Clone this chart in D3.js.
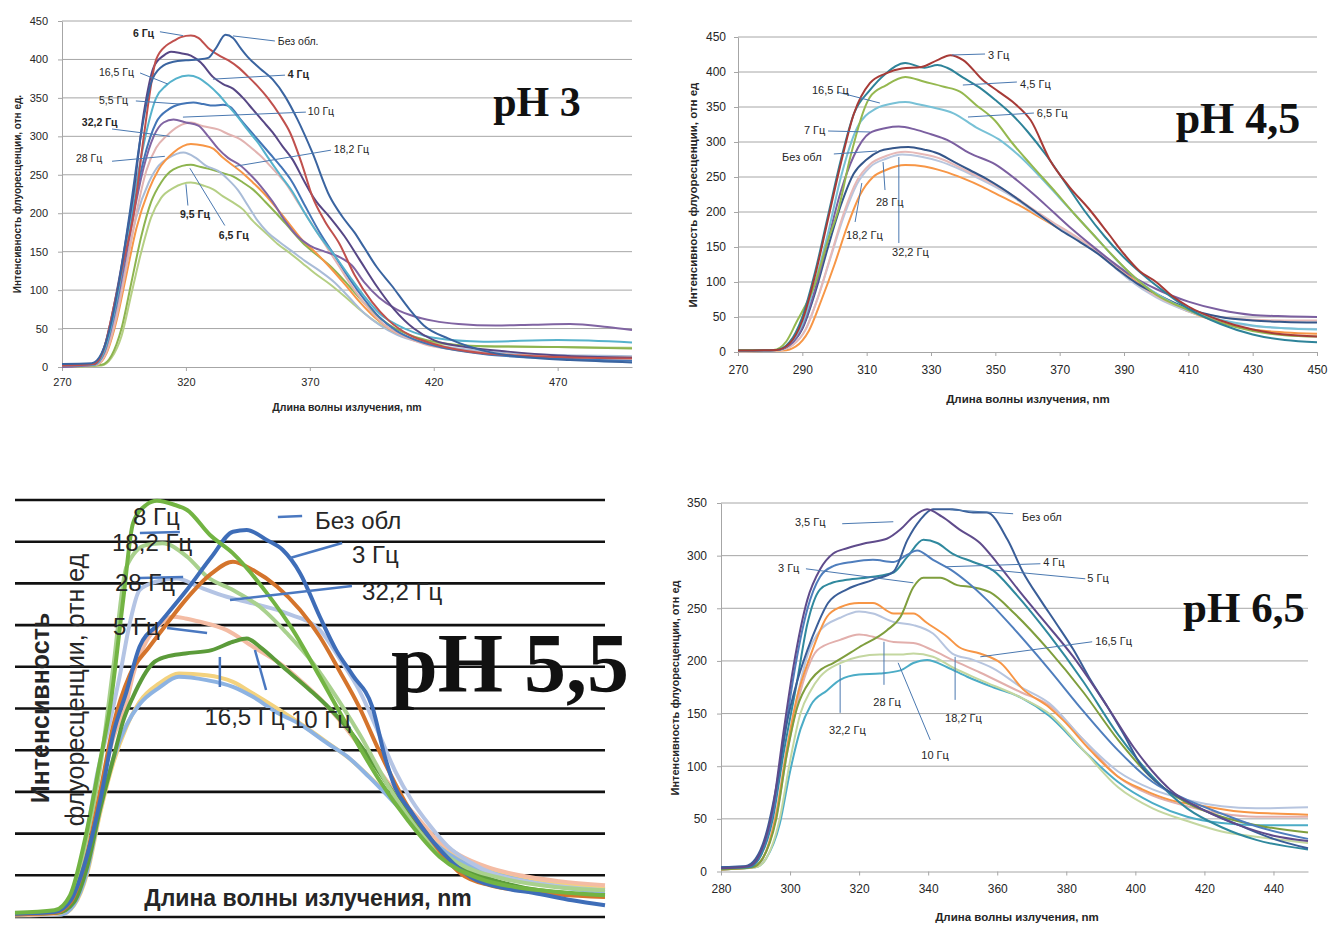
<!DOCTYPE html>
<html>
<head>
<meta charset="utf-8">
<script src="https://cdn.jsdelivr.net/npm/d3@7"></script>
<style>
  body { margin: 0; background: #fff; }
  text { font-family: "Liberation Sans", Arial, sans-serif; fill: #262626; }
  text.ph-title { font-family: "Liberation Serif", "Times New Roman", serif; font-weight: bold; fill: #111; }
</style>
</head>
<body>
<svg id="chart" width="1331" height="925"></svg>
<script>
// ========== DATA: pH 3 (values as [wavelength nm, intensity]) ==========
const ph3Names = ["9,5 Гц", "6,5 Гц", "28 Гц", "18,2 Гц", "10 Гц", "32,2 Гц", "5,5 Гц", "16,5 Гц", "4 Гц", "6 Гц", "Без обл."];
const ph3Values = [
  [[270,0],[286,2],[290,12],[294,40],[298,95],[302,150],[306,195],[310,220],[315,233],[322,240],[327,236],[331,231],[335,222],[339,214],[343,205],[347,190],[352,175],[357,160],[362,148],[367,135],[372,122],[378,108],[384,92],[390,75],[396,60],[402,48],[410,38],[420,31],[440,27],[470,26],[500,25]],
  [[270,0],[286,3],[290,15],[294,50],[298,110],[302,170],[306,215],[310,240],[315,257],[322,263],[326,260],[330,257],[335,252],[339,248],[343,240],[347,231],[352,215],[357,198],[362,180],[367,162],[372,148],[378,132],[384,112],[390,90],[396,70],[402,55],[410,42],[420,33],[440,27],[470,26],[500,24]],
  [[270,2],[284,4],[288,22],[292,70],[296,135],[300,195],[305,240],[309,262],[313,272],[319,279],[324,272],[328,262],[333,255],[337,244],[341,230],[345,210],[349,190],[353,175],[358,162],[363,150],[368,138],[374,125],[380,110],[386,90],[392,70],[398,55],[405,42],[415,32],[430,24],[450,18],[480,15],[500,14]],
  [[270,1],[284,3],[288,18],[292,60],[296,120],[300,180],[305,230],[309,257],[315,279],[322,290],[327,288],[331,284],[335,272],[339,262],[343,252],[347,240],[352,224],[357,205],[362,185],[367,165],[372,150],[378,130],[384,108],[390,85],[396,65],[402,50],[410,38],[420,28],[440,18],[470,14],[500,12]],
  [[270,0],[284,3],[288,20],[292,65],[296,130],[300,200],[304,255],[308,285],[312,300],[317,313],[322,318],[327,313],[333,309],[337,303],[342,296],[346,286],[350,275],[355,258],[360,240],[365,215],[370,190],[376,160],[382,130],[388,100],[394,75],[400,55],[408,40],[416,30],[430,22],[450,16],[480,13],[500,12]],
  [[270,0],[283,3],[287,18],[291,65],[295,130],[299,200],[303,260],[307,300],[311,318],[315,322],[320,318],[325,314],[329,300],[333,284],[337,272],[342,262],[346,250],[350,236],[355,215],[360,190],[365,170],[370,158],[376,150],[382,143],[387,132],[392,110],[398,90],[405,75],[412,66],[420,60],[430,56],[445,54],[460,55],[475,56],[490,52],[500,48]],
  [[270,3],[283,4],[287,22],[291,70],[295,140],[299,210],[303,270],[308,318],[313,335],[318,342],[323,344],[327,342],[331,340],[335,341],[338,338],[342,322],[346,307],[350,292],[354,277],[358,262],[363,240],[368,210],[374,175],[380,145],[386,115],[392,88],[398,65],[405,47],[412,36],[420,28],[440,17],[470,11],[500,8]],
  [[270,2],[283,3],[287,20],[291,70],[295,140],[299,220],[303,290],[308,350],[312,366],[316,375],[321,379],[325,376],[329,367],[333,355],[337,340],[341,325],[345,308],[349,292],[353,273],[358,250],[363,228],[368,200],[374,170],[380,145],[386,118],[392,92],[398,70],[405,55],[412,45],[420,38],[440,33],[470,35],[500,32]],
  [[270,3],[283,4],[287,25],[291,80],[295,150],[299,230],[303,330],[307,390],[311,405],[314,410],[318,408],[322,405],[326,396],[331,377],[335,368],[339,362],[343,350],[347,335],[351,320],[355,305],[359,287],[363,270],[368,240],[372,218],[378,195],[384,170],[390,140],[397,105],[404,75],[412,50],[420,35],[435,25],[450,20],[470,15],[500,12]],
  [[270,2],[283,4],[287,25],[291,80],[295,140],[299,200],[303,300],[308,400],[312,418],[315,424],[318,429],[322,431],[325,428],[329,415],[333,406],[337,399],[341,390],[345,378],[349,365],[353,350],[358,327],[362,305],[367,262],[371,222],[376,190],[382,160],[388,120],[395,85],[402,60],[410,42],[420,30],[440,18],[470,13],[500,11]],
  [[270,4],[282,5],[286,18],[290,60],[294,130],[298,215],[302,305],[306,370],[310,390],[315,397],[320,399],[325,400],[329,402],[332,414],[336,432],[339,428],[342,415],[345,403],[350,388],[355,374],[360,352],[365,322],[371,279],[378,222],[383,196],[388,175],[392,155],[397,130],[403,106],[410,76],[416,54],[426,37],[443,19],[460,12],[475,9],[500,6]]
];
const ph3XTicks = [270, 320, 370, 420, 470];
const ph3YTicks = [0, 50, 100, 150, 200, 250, 300, 350, 400, 450];
const ph3Notes = [
  { text: "6 Гц", bold: true, at: [298.6, 434.6], from: [309.5, 436], to: [318.8, 431] },
  { text: "Без обл.", at: [357.1, 424], from: [355.9, 424], to: [339, 430.6] },
  { text: "16,5 Гц", at: [284.9, 383.7], from: [301.5, 382.4], to: [312.7, 368] },
  { text: "4 Гц", bold: true, at: [361.1, 381], from: [360, 379.6], to: [330.9, 374.4] },
  { text: "5,5 Гц", at: [284.9, 347], from: [299.8, 346], to: [317.6, 342] },
  { text: "10 Гц", at: [369.2, 333], from: [368.4, 331.5], to: [318.8, 325] },
  { text: "32,2 Гц", bold: true, at: [278, 318.5], from: [290.2, 309.5], to: [313.5, 300] },
  { text: "28 Гц", at: [275.6, 271.5], from: [290.2, 267.6], to: [311.5, 274] },
  { text: "18,2 Гц", at: [379.7, 283.4], from: [378.5, 282], to: [339.8, 261] },
  { text: "9,5 Гц", bold: true, at: [317.6, 198.6], from: [320.8, 210], to: [320, 237.7] },
  { text: "6,5 Гц", bold: true, at: [333.3, 171], from: [335.7, 184], to: [321.6, 258.5] }
];

// ========== DATA: pH 4,5 ==========
const ph45Names = ["32,2 Гц", "18,2 Гц", "28 Гц", "Без обл", "7 Гц", "6,5 Гц", "16,5 Гц", "4,5 Гц", "3 Гц"];
const ph45Values = [
  [[270,1],[284,2],[288,8],[292,30],[296,75],[300,125],[304,180],[308,225],[312,250],[316,260],[322,267],[328,265],[334,258],[340,248],[346,236],[352,222],[358,208],[364,192],[370,176],[376,160],[382,143],[388,122],[394,100],[400,80],[410,58],[420,42],[430,32],[440,28],[450,26]],
  [[270,1],[283,3],[287,10],[291,32],[295,80],[299,138],[303,195],[307,240],[311,264],[316,276],[321,282],[327,279],[333,272],[338,263],[344,250],[350,236],[356,220],[362,200],[368,182],[374,165],[380,147],[386,125],[392,102],[400,78],[410,58],[420,45],[430,37],[440,34],[450,33]],
  [[270,1],[283,3],[287,10],[291,32],[295,80],[299,140],[303,200],[307,245],[311,268],[316,280],[322,286],[328,282],[333,276],[338,266],[344,252],[350,238],[356,222],[362,203],[368,185],[374,168],[380,150],[386,128],[392,105],[400,80],[410,60],[420,50],[430,46],[440,45],[450,45]],
  [[270,2],[282,3],[286,10],[290,33],[294,85],[298,150],[302,210],[306,255],[310,275],[314,287],[318,291],[323,293],[328,289],[332,284],[337,272],[342,260],[347,248],[352,234],[358,215],[364,195],[370,175],[376,158],[382,140],[388,118],[394,98],[400,83],[410,62],[420,50],[430,45],[440,43],[450,42]],
  [[270,2],[282,3],[286,10],[290,35],[294,90],[298,160],[302,230],[306,280],[311,313],[316,320],[320,322],[325,318],[330,311],[335,303],[342,284],[350,268],[356,248],[362,225],[368,200],[374,175],[380,152],[386,130],[392,110],[400,90],[410,72],[420,60],[430,53],[440,51],[450,50]],
  [[270,2],[282,3],[286,12],[290,40],[294,100],[298,170],[302,250],[307,320],[313,348],[318,355],[322,357],[326,354],[330,350],[337,341],[344,321],[351,304],[357,282],[364,250],[370,220],[376,190],[382,160],[388,130],[395,100],[402,78],[410,60],[420,46],[430,38],[440,34],[450,32]],
  [[270,3],[281,3],[285,15],[288,41],[294,98],[298,160],[301,200],[305,280],[311,364],[316,381],[322,393],[328,386],[334,379],[339,372],[344,353],[350,330],[355,300],[361,268],[369,227],[375,195],[380,170],[386,140],[392,112],[400,82],[410,60],[420,42],[430,30],[440,24],[450,22]],
  [[270,2],[282,3],[286,14],[290,50],[294,115],[298,195],[302,275],[306,340],[311,374],[316,398],[322,413],[328,406],[332,410],[335,406],[340,392],[345,378],[350,360],[355,340],[360,315],[366,280],[372,240],[378,200],[384,165],[390,135],[396,110],[402,88],[410,62],[420,40],[430,25],[440,17],[450,14]],
  [[270,2],[282,3],[286,12],[290,45],[294,110],[298,190],[302,270],[306,340],[311,384],[316,398],[321,405],[327,407],[332,417],[336,424],[340,417],[346,389],[351,372],[356,355],[361,331],[367,274],[373,236],[379,205],[385,170],[390,140],[395,115],[400,100],[405,80],[410,65],[420,45],[430,32],[440,25],[450,22]]
];
const ph45XTicks = [270, 290, 310, 330, 350, 370, 390, 410, 430, 450];
const ph45YTicks = [0, 50, 100, 150, 200, 250, 300, 350, 400, 450];
const ph45Notes = [
  { text: "3 Гц", at: [347.7, 424.3], from: [346.8, 425.7], to: [336.5, 424.3] },
  { text: "4,5 Гц", at: [357.7, 382.9], from: [356.7, 385.7], to: [339.9, 381.4] },
  { text: "6,5 Гц", at: [362.9, 341.4], from: [362, 341.4], to: [341.5, 335.7] },
  { text: "16,5 Гц", at: [293, 374.3], from: [300.8, 371.4], to: [314.1, 355.7] },
  { text: "7 Гц", at: [290.5, 317], from: [298, 315.7], to: [311, 314.3] },
  { text: "Без обл", at: [283.7, 278.6], from: [299.8, 282.9], to: [313.2, 287.1] },
  { text: "28 Гц", at: [312.9, 214.3], from: [315.7, 231.4], to: [315.1, 271.4] },
  { text: "18,2 Гц", at: [303.6, 167], from: [306.4, 185.7], to: [308.5, 241.4] },
  { text: "32,2 Гц", at: [317.9, 142.9], from: [320, 155.7], to: [320, 278.6] }
];

// ========== DATA: pH 5,5 (no value axis in the original) ==========
const ph55Names = ["32,2 Гц", "10 Гц", "5 Гц", "16,5 Гц", "28 Гц", "18,2 Гц", "3 Гц", "Без обл", "8 Гц"];
const ph55Values = [
  [[270,2],[284,3],[288,14],[292,52],[296,125],[300,185],[304,228],[308,258],[314,280],[320,292],[328.5,290],[336.5,282],[342.6,268],[350,250],[357,232],[365,210],[372,190],[379,165],[386,138],[392,112],[398,90],[406,70],[416,55],[428,44],[440,38],[450,34]],
  [[270,2],[284,3],[288,15],[292,55],[296,130],[300,190],[304,230],[308,255],[314,275],[320,288],[328.5,284],[336.5,276],[342.6,264],[350,245],[356.6,232],[365.4,208],[371.5,192],[378,168],[385,140],[391.6,113],[397.8,89],[405.4,68],[415.4,53],[428,41],[440,34],[450,30]],
  [[270,2],[283,4],[288,20],[292,70],[296,150],[300,215],[304,256],[306,290],[310,330],[314,350],[318,360],[322,358],[326.4,354],[334.6,344],[342.6,324],[350.8,304],[357,284],[363,262],[369,236],[375,206],[381,176],[387,145],[393.5,116],[399,92],[405.7,74],[414,60],[424,50],[436,43],[450,38]],
  [[270,3],[283,5],[288,18],[292,60],[296,130],[300,190],[303,235],[306,264],[312,304],[316,312],[322,316],[330,320],[336.5,330],[340.7,334],[344.7,324],[351.7,300],[360,272],[366,250],[372,224],[380,180],[387,140],[393,108],[399.6,80],[405,62],[411.8,50],[420,40],[430,32],[440,28],[450,26]],
  [[270,3],[282,6],[287,25],[291,80],[295,170],[299,235],[302,290],[305,352],[308,392],[313,402],[319.4,406],[326,396],[334.6,384],[342.6,376],[353,364],[363,344],[369,310],[375,272],[381,220],[386,175],[391,140],[396.5,110],[402,85],[408.7,66],[416,52],[424,44],[436,37],[450,32]],
  [[270,4],[282,6],[287,25],[291,80],[296,180],[300,300],[304,420],[310,446],[315,448],[322.5,432],[328.6,408],[336.5,392],[344.7,372],[353,340],[361,304],[366,276],[375,220],[385,150],[395,95],[405,65],[420,45],[435,36],[450,32]],
  [[270,3],[282,5],[287,18],[291,60],[296,150],[300,230],[305,290],[311,324],[316,350],[322,380],[330,412],[336.5,426],[342.6,416],[350,396],[357,368],[363,336],[369,295],[375,252],[381,200],[386,160],[391,125],[396,98],[401,72],[406,52],[415,38],[424,32],[436,27],[450,24]],
  [[270,4],[282,6],[287,20],[291,60],[296,140],[300,220],[304,270],[308,324],[314,352],[322.4,392],[330,432],[336.5,462],[340.7,464],[346.8,452],[351.7,440],[357,412],[363,360],[368,320],[373,290],[379,252],[383,190],[386,155],[390.5,128],[397.8,89],[409,48],[420,34],[428,29],[440,20],[450,14]],
  [[270,5],[282,8],[286.8,26],[291.3,92],[296,188],[299,252],[303,380],[306,472],[310,494],[313.3,499],[318.8,494],[322.5,488],[329.5,458],[336.5,436],[346.9,388],[354.8,344],[363,288],[372,225],[381,165],[390,115],[399.6,72],[411.8,46],[424,35],[436,30],[450,26]]
];
const ph55YLines = [0, 50, 100, 150, 200, 250, 300, 350, 400, 450, 500];
const ph55Notes = [
  { text: "8 Гц", at: [306, 479.6] },
  { text: "Без обл", at: [361.5, 474.8], from: [350.2, 479.6], to: [357.6, 480.8] },
  { text: "18,2 Гц", at: [299.6, 448.4], from: [308.1, 460.4], to: [320.3, 461.6] },
  { text: "3 Гц", at: [372.8, 434], from: [369.8, 448.4], to: [353.9, 430.5] },
  { text: "28 Гц", at: [300.5, 400.5], from: [308.1, 406.5], to: [321.3, 407.7] },
  { text: "32,2 Гц", at: [375.9, 389.7], from: [372.8, 396.9], to: [335.6, 380.1] },
  { text: "5 Гц", at: [299.9, 347.7], from: [316.4, 346.5], to: [328.6, 340.5] },
  { text: "16,5 Гц", at: [327.8, 239.8], from: [332.5, 275.8], to: [332.5, 311.8] },
  { text: "10 Гц", at: [354.2, 236.2], from: [346.6, 272.2], to: [343.2, 320.1] }
];

// ========== DATA: pH 6,5 ==========
const ph65Names = ["10 Гц", "32,2 Гц", "28 Гц", "18,2 Гц", "16,5 Гц", "5 Гц", "4 Гц", "3 Гц", "Без обл", "3,5 Гц"];
const ph65Values = [
  [[280,2],[290,4],[293,12],[297,45],[300,95],[303,135],[306,158],[310.7,172],[314.5,182],[320,187],[326,188],[332,191],[335.7,198],[339.7,201],[345.5,194],[351.3,185],[358.8,175],[367,165],[375,148],[385,115],[395,85],[405,65],[415,52],[425,46],[435,44],[450,44]],
  [[280,2],[290,4],[293,12],[297,50],[300,105],[303,150],[306,172],[308.7,185],[314.5,198],[320,204],[326,206],[332,206],[335.7,207],[341.4,204],[347,194],[355,182],[367,165],[375,150],[385,115],[395,80],[405,60],[415,48],[425,38],[435,33],[450,27]],
  [[280,2],[289,4],[292,12],[296,52],[299,110],[302,158],[305,192],[307.8,210],[314.5,220],[320,225],[324,223],[330,218],[335.7,217],[341.4,210],[347,201],[355,189],[367,170],[375,158],[385,125],[395,90],[405,72],[415,62],[425,55],[435,52],[450,52]],
  [[280,2],[289,4],[292,12],[296,55],[299,115],[302,165],[305,205],[308.7,229],[314.5,241],[320,247],[324,245],[330,237],[335.7,234],[341.4,226],[347,207],[353,201],[358.8,193],[367,175],[375,160],[385,125],[395,95],[405,78],[415,68],[425,62],[435,60],[450,61]],
  [[280,2],[289,4],[292,12],[296,55],[299,115],[302,165],[305.8,204],[310.7,242],[314.5,251],[320,255],[324,255],[330,245],[335.7,245],[339.7,236],[345.5,223],[349,213],[355,207],[361,198],[367.5,173],[375,156],[379,144],[387,115],[395,90],[402,78],[410,68],[420,62],[430,57],[440,55],[450,54]],
  [[280,2],[289,4],[292,12],[296,50],[299,110],[302,155],[306,182],[309,192],[312.5,198],[320,213],[328,229],[332,242],[335.7,270],[338.6,279],[343.5,279],[348.4,272],[353,270],[358,265],[365,245],[375,210],[385,170],[395,125],[405,88],[415,65],[425,52],[435,44],[450,37]],
  [[280,3],[288,4],[291,12],[295,50],[298,110],[302,180],[305,235],[308.7,268],[312,274],[316.5,277],[324,280],[330,284],[334,299],[338.6,315],[342.6,312],[347,302],[353,294],[358.8,286],[365,265],[375,225],[385,180],[395,130],[405,90],[415,60],[425,42],[435,30],[450,21]],
  [[280,4],[288,5],[291,14],[295,55],[298,120],[301,185],[305,249],[308.7,280],[312.5,290],[318,294],[324,296],[330,294],[334,301],[336.8,305],[341.4,296],[346.4,287],[351.3,275],[357,258],[365,230],[375,192],[385,152],[395,115],[405,85],[415,68],[425,55],[435,43],[450,31]],
  [[280,4],[287,5],[290,12],[293,35],[296,80],[299,140],[302,180],[305,210],[308,235],[311,255],[316.5,268],[324,277],[330,285],[334,315],[337.7,334],[341.4,344],[347,344],[353,341],[357,341],[363,315],[367.5,284],[372.5,258],[377,236],[382,211],[387,182],[392,156],[396.5,131],[402,99],[408,80],[414,68],[420,58],[430,44],[440,31],[450,22]],
  [[280,3],[288,5],[291,15],[295,60],[298,130],[301,195],[305,258],[308.7,287],[312.5,302],[316.5,307],[322,312],[328,316],[332,325],[335.7,337],[339.7,344],[344,337],[349,325],[355,312],[360,293],[366,268],[372.5,242],[382,204],[392,156],[399.5,118],[405,95],[410,78],[420,58],[430,44],[440,34],[450,29]]
];
const ph65XTicks = [280, 300, 320, 340, 360, 380, 400, 420, 440];
const ph65YTicks = [0, 50, 100, 150, 200, 250, 300, 350];
const ph65Notes = [
  { text: "3,5 Гц", at: [301.4, 332.2], from: [315.1, 330.3], to: [329.9, 332.2] },
  { text: "Без обл", at: [367.2, 337], from: [364.6, 339.8], to: [346.4, 343.6] },
  { text: "4 Гц", at: [373.3, 294.2], from: [372.5, 292.3], to: [344.9, 289.4] },
  { text: "5 Гц", at: [386.1, 279], from: [385.5, 278], to: [358, 286.6] },
  { text: "3 Гц", at: [296.5, 288.5], from: [304.6, 287.5], to: [335.7, 274.2] },
  { text: "16,5 Гц", at: [388.4, 219.1], from: [387.5, 218.2], to: [355.1, 203.9] },
  { text: "28 Гц", at: [324.1, 161.1], from: [327.2, 177.3], to: [327.2, 218.2] },
  { text: "18,2 Гц", at: [344.9, 145.9], from: [347.8, 163], to: [347.8, 203.9] },
  { text: "32,2 Гц", at: [311.3, 134.5], from: [314.5, 150.7], to: [314.5, 196.3] },
  { text: "10 Гц", at: [338, 110.7], from: [340.6, 125], to: [331.3, 198.2] }
];

// ========== STYLES ==========
const ph3Colors = ["#b5cf84", "#8db44f", "#a9bcd8", "#f79646", "#e2b3b1", "#8064a2", "#4375b6", "#56b2cc", "#574785", "#c0504d", "#3a64a0"];
const ph45Colors = ["#f79646", "#b8c6de", "#e6b9b8", "#35568a", "#7b5fa0", "#78c1d6", "#95b84f", "#2e8399", "#a73b37"];
const ph55Colors = ["#f3d27e", "#8db3e2", "#f4bca4", "#5b9b3a", "#b4c4e4", "#a9d18e", "#d4742c", "#3e6db8", "#72b443"];
const ph65Colors = ["#4bacc6", "#c4d7a0", "#e2afac", "#b7c5df", "#f79646", "#7f9e3d", "#30899e", "#4f7ebd", "#3a5e98", "#5f4b8b"];

const svg = d3.select("#chart");
svg.append("rect").attr("width", 1331).attr("height", 925).attr("fill", "#fff");

// ========== EXCEL-LIKE PANEL ==========
const drawPanel = (cfg, values, colors, xTicks, yTicks, notes) => {
    const x = d3.scaleLinear().domain(cfg.xDomain).range([cfg.left, cfg.right]);
    const y = d3.scaleLinear().domain(cfg.yDomain).range([cfg.bottom, cfg.top]);
    const g = svg.append("g");

    // horizontal gridlines
    g.selectAll(".grid")
        .data(yTicks.filter(t => t > 0))
        .join("line")
        .attr("x1", cfg.left).attr("x2", cfg.right)
        .attr("y1", d => y(d)).attr("y2", d => y(d))
        .attr("stroke", "#a6a6a6").attr("stroke-width", 1);

    const styleAxis = a => {
        a.select(".domain").attr("stroke", "#a6a6a6");
        a.selectAll(".tick line").attr("stroke", "#a6a6a6");
        a.selectAll(".tick text").attr("font-size", cfg.tickFont).attr("fill", "#262626");
    };

    g.append("g")
        .attr("transform", `translate(0, ${cfg.bottom})`)
        .call(d3.axisBottom(x).tickValues(xTicks).tickSize(4).tickSizeOuter(0).tickPadding(cfg.xPad))
        .call(styleAxis);

    g.append("g")
        .attr("transform", `translate(${cfg.left}, 0)`)
        .call(d3.axisLeft(y).tickValues(yTicks).tickSize(4).tickSizeOuter(0).tickPadding(cfg.yPad))
        .call(styleAxis);

    // spectra
    const line = d3.line().x(d => x(d[0])).y(d => y(d[1])).curve(d3.curveMonotoneX);
    g.selectAll(".spec")
        .data(values)
        .join("path")
        .attr("d", line)
        .attr("fill", "none")
        .attr("stroke", (d, i) => colors[i])
        .attr("stroke-width", 2);

    // leader lines and series labels
    notes.forEach(n => {
        g.append("line")
            .attr("x1", x(n.from[0])).attr("y1", y(n.from[1]))
            .attr("x2", x(n.to[0])).attr("y2", y(n.to[1]))
            .attr("stroke", "#4a78b0").attr("stroke-width", 1);
        g.append("text")
            .attr("x", x(n.at[0])).attr("y", y(n.at[1]))
            .attr("dy", "0.35em")
            .attr("font-size", cfg.noteFont)
            .attr("font-weight", n.bold ? "bold" : "normal")
            .text(n.text);
    });

    // pH title (serif, as in the original)
    g.append("text")
        .attr("class", "ph-title")
        .attr("x", cfg.title.x).attr("y", cfg.title.y)
        .attr("text-anchor", "middle")
        .attr("font-size", cfg.title.size)
        .text(cfg.title.text);

    // axis titles
    g.append("text")
        .attr("x", cfg.xTitle.x).attr("y", cfg.xTitle.y)
        .attr("text-anchor", "middle")
        .attr("font-size", cfg.xTitle.size)
        .attr("font-weight", "bold")
        .text("Длина волны излучения, nm");

    g.append("text")
        .attr("transform", `translate(${cfg.yTitle.x}, ${cfg.yTitle.y}) rotate(-90)`)
        .attr("text-anchor", "middle")
        .attr("font-size", cfg.yTitle.size)
        .attr("font-weight", "bold")
        .text(cfg.yTitle.text);
};

drawPanel(
    { xDomain: [270, 500], yDomain: [0, 450], left: 62, right: 632, top: 21, bottom: 367,
      tickFont: 11, noteFont: 10.5, xPad: 7, yPad: 10,
      title: { text: "pH 3", x: 537, y: 116, size: 42 },
      xTitle: { x: 347, y: 411, size: 10.5 },
      yTitle: { x: 21, y: 194, size: 10, text: "Интенсивность флуоресценции, отн ед." } },
    ph3Values, ph3Colors, ph3XTicks, ph3YTicks, ph3Notes);

drawPanel(
    { xDomain: [270, 450], yDomain: [0, 450], left: 738, right: 1317, top: 37, bottom: 352,
      tickFont: 12, noteFont: 11, xPad: 9, yPad: 8,
      title: { text: "pH 4,5", x: 1238, y: 133, size: 44 },
      xTitle: { x: 1028, y: 403, size: 11.5 },
      yTitle: { x: 697, y: 195, size: 11.5, text: "Интенсивность флуоресценции, отн ед" } },
    ph45Values, ph45Colors, ph45XTicks, ph45YTicks, ph45Notes);

drawPanel(
    { xDomain: [280, 450], yDomain: [0, 350], left: 721, right: 1308, top: 503, bottom: 871.5,
      tickFont: 12, noteFont: 11, xPad: 9, yPad: 10,
      title: { text: "pH 6,5", x: 1244, y: 622, size: 43 },
      xTitle: { x: 1017, y: 921, size: 11.5 },
      yTitle: { x: 679, y: 688, size: 11, text: "Интенсивность флуоресценции, отн ед" } },
    ph65Values, ph65Colors, ph65XTicks, ph65YTicks, ph65Notes);

// ========== STRETCHED PANEL pH 5,5 ==========
const drawStretched = () => {
    const x = d3.scaleLinear().domain([270, 450]).range([15, 605]);
    const y = d3.scaleLinear().domain([0, 500]).range([917, 500]);
    const g = svg.append("g");

    g.selectAll(".grid")
        .data(ph55YLines)
        .join("line")
        .attr("x1", 15).attr("x2", 605)
        .attr("y1", d => y(d)).attr("y2", d => y(d))
        .attr("stroke", "#111").attr("stroke-width", 2.6);

    const line = d3.line().x(d => x(d[0])).y(d => y(d[1])).curve(d3.curveMonotoneX);
    g.selectAll(".spec")
        .data(ph55Values)
        .join("path")
        .attr("d", line)
        .attr("fill", "none")
        .attr("stroke", (d, i) => ph55Colors[i])
        .attr("stroke-width", 4)
        .attr("stroke-linejoin", "round");

    g.append("text")
        .attr("class", "ph-title")
        .attr("x", 510).attr("y", 692)
        .attr("text-anchor", "middle")
        .attr("font-size", 84)
        .text("pH 5,5");

    ph55Notes.forEach(n => {
        if (n.from) {
            g.append("line")
                .attr("x1", x(n.from[0])).attr("y1", y(n.from[1]))
                .attr("x2", x(n.to[0])).attr("y2", y(n.to[1]))
                .attr("stroke", "#4a78c0").attr("stroke-width", 2.5);
        }
        g.append("text")
            .attr("x", x(n.at[0])).attr("y", y(n.at[1]))
            .attr("dy", "0.35em")
            .attr("font-size", 24)
            .text(n.text);
    });

    g.append("text")
        .attr("x", 308).attr("y", 906)
        .attr("text-anchor", "middle")
        .attr("font-size", 23)
        .attr("font-weight", "bold")
        .text("Длина волны излучения, nm");

    g.append("text")
        .attr("transform", "translate(49, 708) rotate(-90)")
        .attr("text-anchor", "middle")
        .attr("font-size", 25)
        .attr("font-weight", "bold")
        .text("Интенсивность");
    g.append("text")
        .attr("transform", "translate(84, 690) rotate(-90)")
        .attr("text-anchor", "middle")
        .attr("font-size", 25)
        .text("флуоресценции, отн ед");
};

drawStretched();
</script>
</body>
</html>
